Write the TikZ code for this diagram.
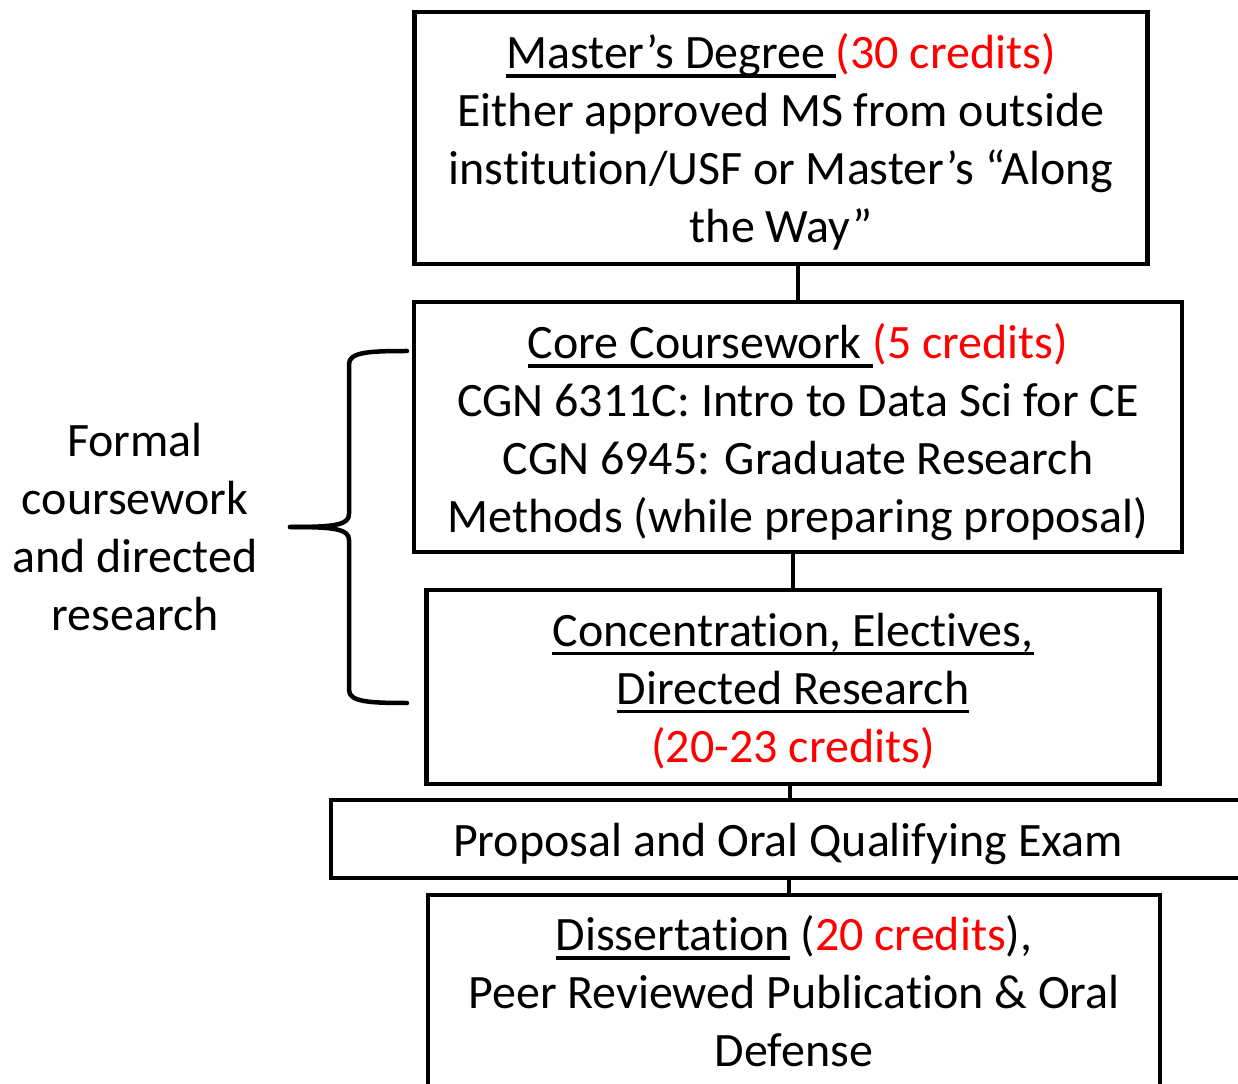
\documentclass[tikz,border=0pt]{standalone}
\usepackage{fontspec}
\setmainfont{Carlito}[RawFeature={-liga;-clig;-calt;-dlig}]
\usepackage{xcolor}
\usetikzlibrary{positioning,calc}
\definecolor{credred}{HTML}{FF0000}
\newcommand{\cred}[1]{\textcolor{credred}{#1}}
\newlength{\ulwd}
\newcommand{\uln}[1]{\settowidth{\ulwd}{#1}\rlap{\rule[-0.19em]{\ulwd}{0.07em}}#1}
% push a line's text down (extra height) or up (extra depth)
\newcommand{\padtop}[2]{\raisebox{0pt}[\dimexpr\height+#1\relax]{#2}}
\newcommand{\padbot}[2]{\raisebox{0pt}[\height][\dimexpr\depth+#1\relax]{#2}}

\begin{document}
\begin{tikzpicture}[
  x=0.02cm,y=-0.02cm,
  every node/.style={font=\fontsize{27.3}{33}\selectfont},
  stage/.style={rectangle,draw=black,line width=0.09cm,align=center,
                inner sep=2pt},
  link/.style={line width=0.09cm,draw=black},
  bracket/.style={line width=0.09cm,draw=black,line cap=round,line join=round}
]
\useasboundingbox (0,0) rectangle (1238,1084);

%% ---- main column ----
\node[stage,minimum width=14.66cm,minimum height=5.04cm] (master) at (781,138)
    {\padtop{0.16cm}{\uln{Master’s Degree\ }\cred{(30 credits)}}\\ Either approved MS from outside\\
     institution/USF or Master’s “Along\\ the Way”};
\node[stage,minimum width=15.36cm,minimum height=5.0cm] (core) at (798,427)
    {\padtop{0.2cm}{\uln{Core Coursework\ }\cred{(5 credits)}}\\ CGN 6311C: Intro to Data Sci for CE\\
     CGN 6945: Graduate Research\\ Methods (while preparing proposal)};
\node[stage,minimum width=14.66cm,minimum height=3.88cm] (conc) at (793,687)
    {\padtop{0.16cm}{\uln{Concentration, Electives,}}\\ \uln{Directed Research}\\ \cred{(20-23 credits)}};
\node[stage,minimum width=18.28cm,minimum height=1.56cm] (prop) at (788,839)
    {\padtop{0.2cm}{Proposal and Oral Qualifying Exam}};
\node[stage,minimum width=14.64cm,minimum height=4.0cm] (diss) at (794,995)
    {\uln{Dissertation} (\cred{20 credits}),\\ Peer Reviewed Publication \& Oral\\ \padbot{0.16cm}{Defense}};

%% ---- side label ----
\node[align=center] (formal) at (135,527)
    {Formal\\ coursework\\ and directed\\ research};

%% ---- connectors ----
\draw[link] (core.north) -- (core.north |- master.south);
\draw[link] (conc.north) -- (conc.north |- core.south);
\draw[link] ([xshift=-0.06cm]conc.south) -- ([xshift=-0.06cm]conc.south |- prop.north);
\draw[link] ([xshift=-0.08cm]conc.south |- prop.south) -- ([xshift=-0.08cm]conc.south |- diss.north);

%% ---- brace ----
\coordinate (btop) at (407,351);
\coordinate (bbot) at (407,703);
\coordinate (btip) at (290,527);
\draw[bracket] (btop) .. controls (370,351) and (349,352) .. (349,364)
   -- (349,514) .. controls (349,525) and (335,527) .. (btip);
\draw[bracket] (bbot) .. controls (370,703) and (349,702) .. (349,690)
   -- (349,540) .. controls (349,529) and (335,527) .. (btip);

\end{tikzpicture}
\end{document}
